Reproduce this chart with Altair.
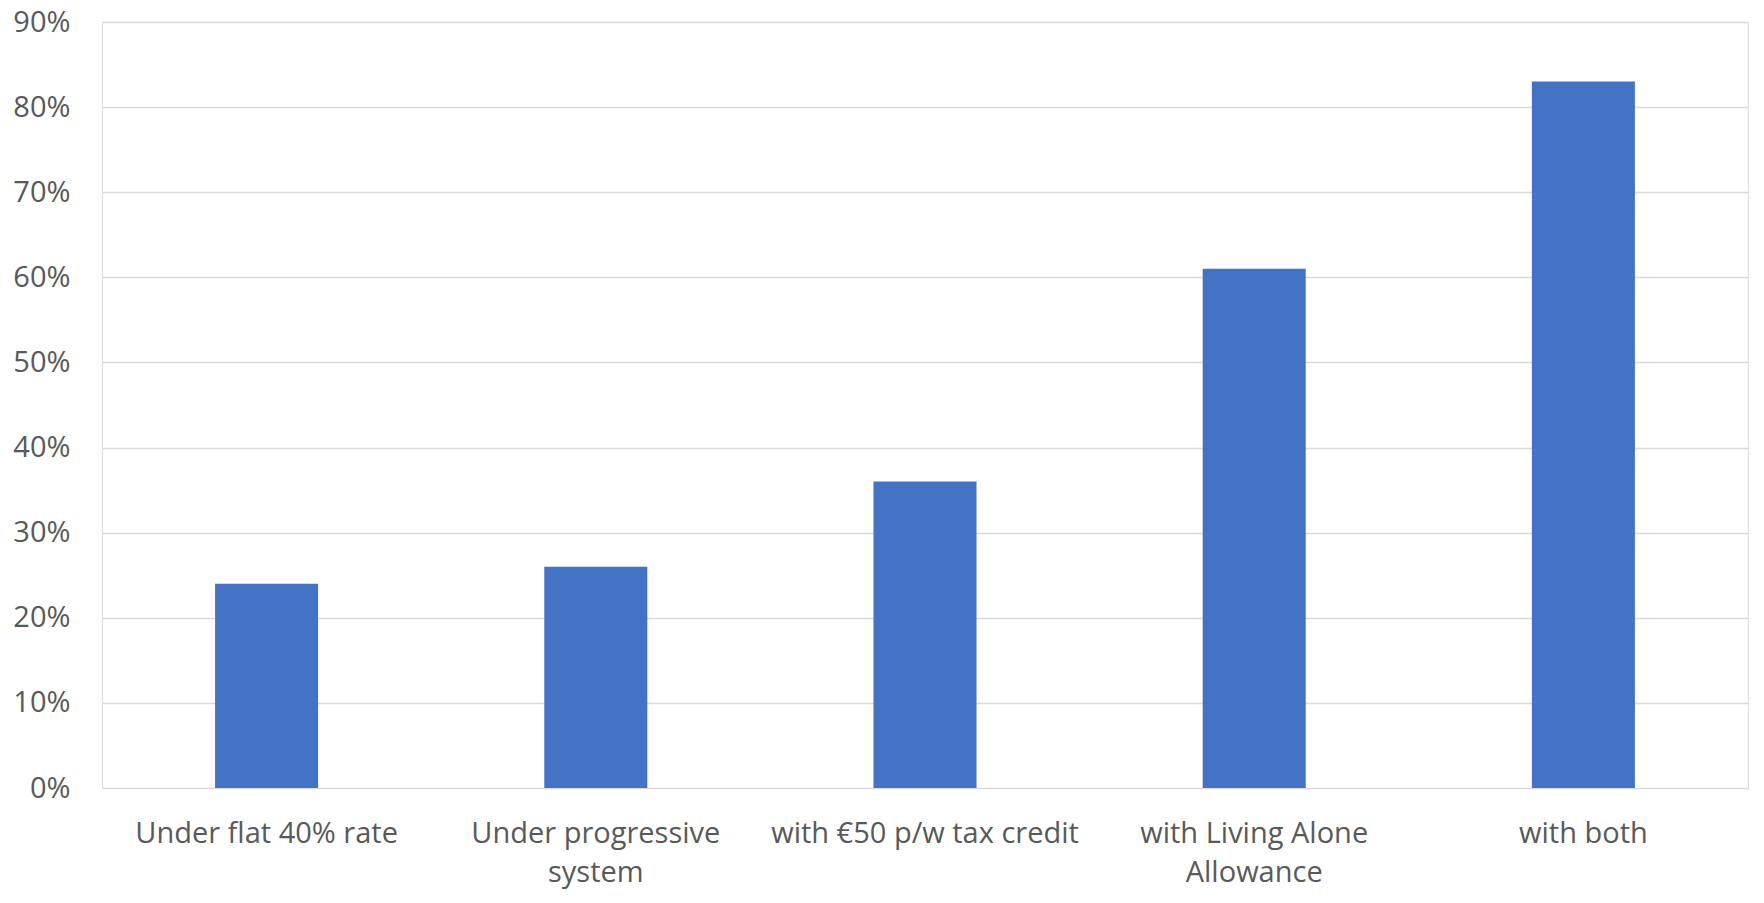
import altair as alt
import pandas as pd

categories = [
    "Under flat 40% rate",
    "Under progressive\nsystem",
    "with €50 p/w tax credit",
    "with Living Alone\nAllowance",
    "with both",
]
values = [0.24, 0.26, 0.36, 0.61, 0.83]
y_ticks = [0.0, 0.1, 0.2, 0.3, 0.4, 0.5, 0.6, 0.7, 0.8, 0.9]

df = pd.DataFrame({"category": categories, "value": values})

FONT = "Open Sans"
TEXT = "#595959"

chart = (
    alt.Chart(df)
    .mark_bar(color="#4472C4")
    .encode(
        x=alt.X(
            "category:N",
            sort=categories,
            scale=alt.Scale(paddingInner=0.687, paddingOuter=0.3435),
            axis=alt.Axis(
                title=None,
                labelAngle=0,
                labelFont=FONT,
                labelFontSize=29,
                labelColor=TEXT,
                labelPadding=31,
                labelLineHeight=39,
                labelLimit=0,
                labelExpr="split(datum.label, '\\n')",
                ticks=False,
                tickSize=0,
                domain=False,
                grid=False,
            ),
        ),
        y=alt.Y(
            "value:Q",
            scale=alt.Scale(domain=[0, 0.9], nice=False),
            axis=alt.Axis(
                title=None,
                values=y_ticks,
                format=".0%",
                labelFont=FONT,
                labelFontSize=29,
                labelColor=TEXT,
                labelPadding=32,
                ticks=False,
                tickSize=0,
                domain=False,
                grid=True,
                gridColor="#d9d9d9",
                gridWidth=1.6,
            ),
        ),
    )
    .properties(
        width=1646,
        height=766,
        autosize=alt.AutoSizeParams(type="none"),
        padding={"left": 102, "top": 22, "right": 16, "bottom": 115},
    )
    .configure_view(stroke="transparent", strokeWidth=0)
    .configure_axis(domain=False)
    .configure(background="white")
)

chart.save("out.html", embed_options={"renderer": "svg", "actions": False})
